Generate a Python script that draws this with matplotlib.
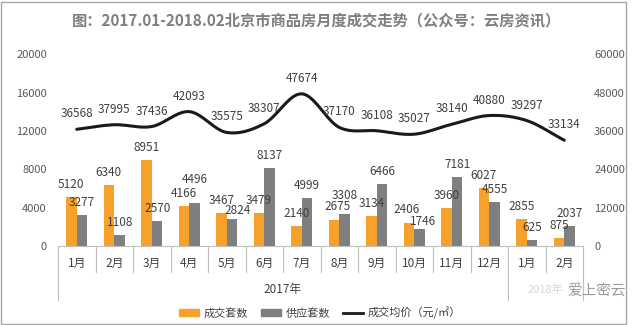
import numpy as np
import matplotlib
matplotlib.use("Agg")
import matplotlib.pyplot as plt
from matplotlib.patches import Patch, Rectangle
from matplotlib.lines import Line2D

plt.rcParams['font.family'] = ['Noto Sans CJK SC', 'DejaVu Sans']

months = ['1月', '2月', '3月', '4月', '5月', '6月', '7月', '8月', '9月', '10月', '11月', '12月', '1月', '2月']
deals = [5120, 6340, 8951, 4166, 3467, 3479, 2140, 2675, 3134, 2406, 3960, 6027, 2855, 875]
supply = [3277, 1108, 2570, 4496, 2824, 8137, 4999, 3308, 6466, 1746, 7181, 4555, 625, 2037]
price = [36568, 37995, 37436, 42093, 35575, 38307, 47674, 37170, 36108, 35027, 38140, 40880, 39297, 33134]
years = ['2017年', '2018年']

orange = '#F5A12B'
gray = '#7F7F7F'
txt = '#404040'


def smooth(xs, ys, n=20):
    # catmull-rom curve through the points, like excel's smoothed line
    px = np.concatenate([[2 * xs[0] - xs[1]], xs, [2 * xs[-1] - xs[-2]]])
    py = np.concatenate([[2 * ys[0] - ys[1]], ys, [2 * ys[-1] - ys[-2]]])
    ox, oy = [], []
    t = np.linspace(0, 1, n, endpoint=False)
    for i in range(1, len(px) - 2):
        for p, out in ((px, ox), (py, oy)):
            p0, p1, p2, p3 = p[i - 1], p[i], p[i + 1], p[i + 2]
            out.extend(0.5 * (2 * p1 + (-p0 + p2) * t + (2 * p0 - 5 * p1 + 4 * p2 - p3) * t ** 2
                              + (-p0 + 3 * p1 - 3 * p2 + p3) * t ** 3))
    ox.append(xs[-1])
    oy.append(ys[-1])
    return ox, oy


def px2pt(v):
    return v * 72 / 100


fig = plt.figure(figsize=(6.4, 3.25), dpi=100)
ax = fig.add_axes([58 / 640, 1 - 246 / 325, 525 / 640, 191.5 / 325])
ax2 = ax.twinx()

x = np.arange(len(months))
w = 0.28
ax.bar(x - 0.145, deals, w, color=orange, zorder=2)
ax.bar(x + 0.145, supply, w, color=gray, zorder=2)

# label nudges (pixels) where the original chart moved labels apart
deal_nudge = {7: (4, 13.5), 9: (-2, 13)}
supply_nudge = {3: (0, 23), 4: (5, 8), 7: (0, 19), 9: (3, 8)}
for i in range(len(months)):
    dx, dy = deal_nudge.get(i, (0, 12.5))
    ax.annotate(str(deals[i]), (x[i] - 0.145, deals[i]), xytext=(px2pt(dx), px2pt(dy)),
                textcoords='offset points', ha='center', va='center', fontsize=8.5, color=txt, zorder=4)
    dx, dy = supply_nudge.get(i, (0, 12.5))
    ax.annotate(str(supply[i]), (x[i] + 0.145, supply[i]), xytext=(px2pt(dx), px2pt(dy)),
                textcoords='offset points', ha='center', va='center', fontsize=8.5, color=txt, zorder=4)

sx, sy = smooth(x.astype(float), np.array(price, dtype=float))
ax2.plot(sx, sy, color='#1a1a1a', lw=2.2, solid_capstyle='round', zorder=3)
for i in range(len(months)):
    ax2.annotate(str(price[i]), (x[i], price[i]), xytext=(0, px2pt(15.5)), textcoords='offset points',
                 ha='center', va='center', fontsize=8.5, color=txt)

ax.set_xlim(-0.5, 13.5)
ax.set_ylim(0, 20000)
ax.set_yticks(range(0, 20001, 4000))
ax2.set_ylim(0, 60000)
ax2.set_yticks(range(0, 60001, 12000))
ax.set_xticks([])
for a in (ax, ax2):
    for s in a.spines.values():
        s.set_visible(False)
    a.tick_params(axis='y', length=0, labelsize=8, labelcolor='#595959', pad=8)
ax.spines['bottom'].set_visible(True)
ax.spines['bottom'].set_color('#bfbfbf')

# category axis: month labels, separators, year groups
tr = ax.get_xaxis_transform()
for i, m in enumerate(months):
    ax.text(i, -17 / 191.5, m, transform=tr, ha='center', va='center', fontsize=8.5, color=txt)
for i in range(len(months) + 1):
    bottom = -54 / 191.5 if i in (0, 12, 14) else -26 / 191.5
    ax.plot([i - 0.5, i - 0.5], [0, bottom], transform=tr, color='#bfbfbf', lw=0.8, clip_on=False)
ax.text(5.5, -44 / 191.5, years[0], transform=tr, ha='center', va='center', fontsize=8.5, color=txt)
ax.text(12.5, -44 / 191.5, years[1], transform=tr, ha='center', va='center', fontsize=8, color='#d6d6d6')
fig.text(597 / 640, 1 - 291 / 325, '爱上密云', ha='center', va='center', fontsize=10.5, color='#9a9a9a')

fig.text(0.494, 1 - 20 / 325, '图：2017.01-2018.02北京市商品房月度成交走势（公众号：云房资讯）',
         ha='center', va='center', fontsize=11, fontweight='bold', color='#7f7f7f')

handles = [Patch(color=orange), Patch(color=gray), Line2D([], [], color='#1a1a1a', lw=2)]
fig.legend(handles, ['成交套数', '供应套数', '成交均价（元/㎡）'], loc='center',
           bbox_to_anchor=(0.5, 1 - 313 / 325), ncol=3, frameon=False, fontsize=8,
           handlelength=1.8, handleheight=0.6, columnspacing=1.2, handletextpad=0.4, labelcolor=txt)

fig.patches.append(Rectangle((1 / 640, 1 / 325), 625 / 640, 322 / 325, transform=fig.transFigure,
                             fill=False, edgecolor='#a6a6a6', lw=1))

fig.savefig('out.png', dpi=100)
